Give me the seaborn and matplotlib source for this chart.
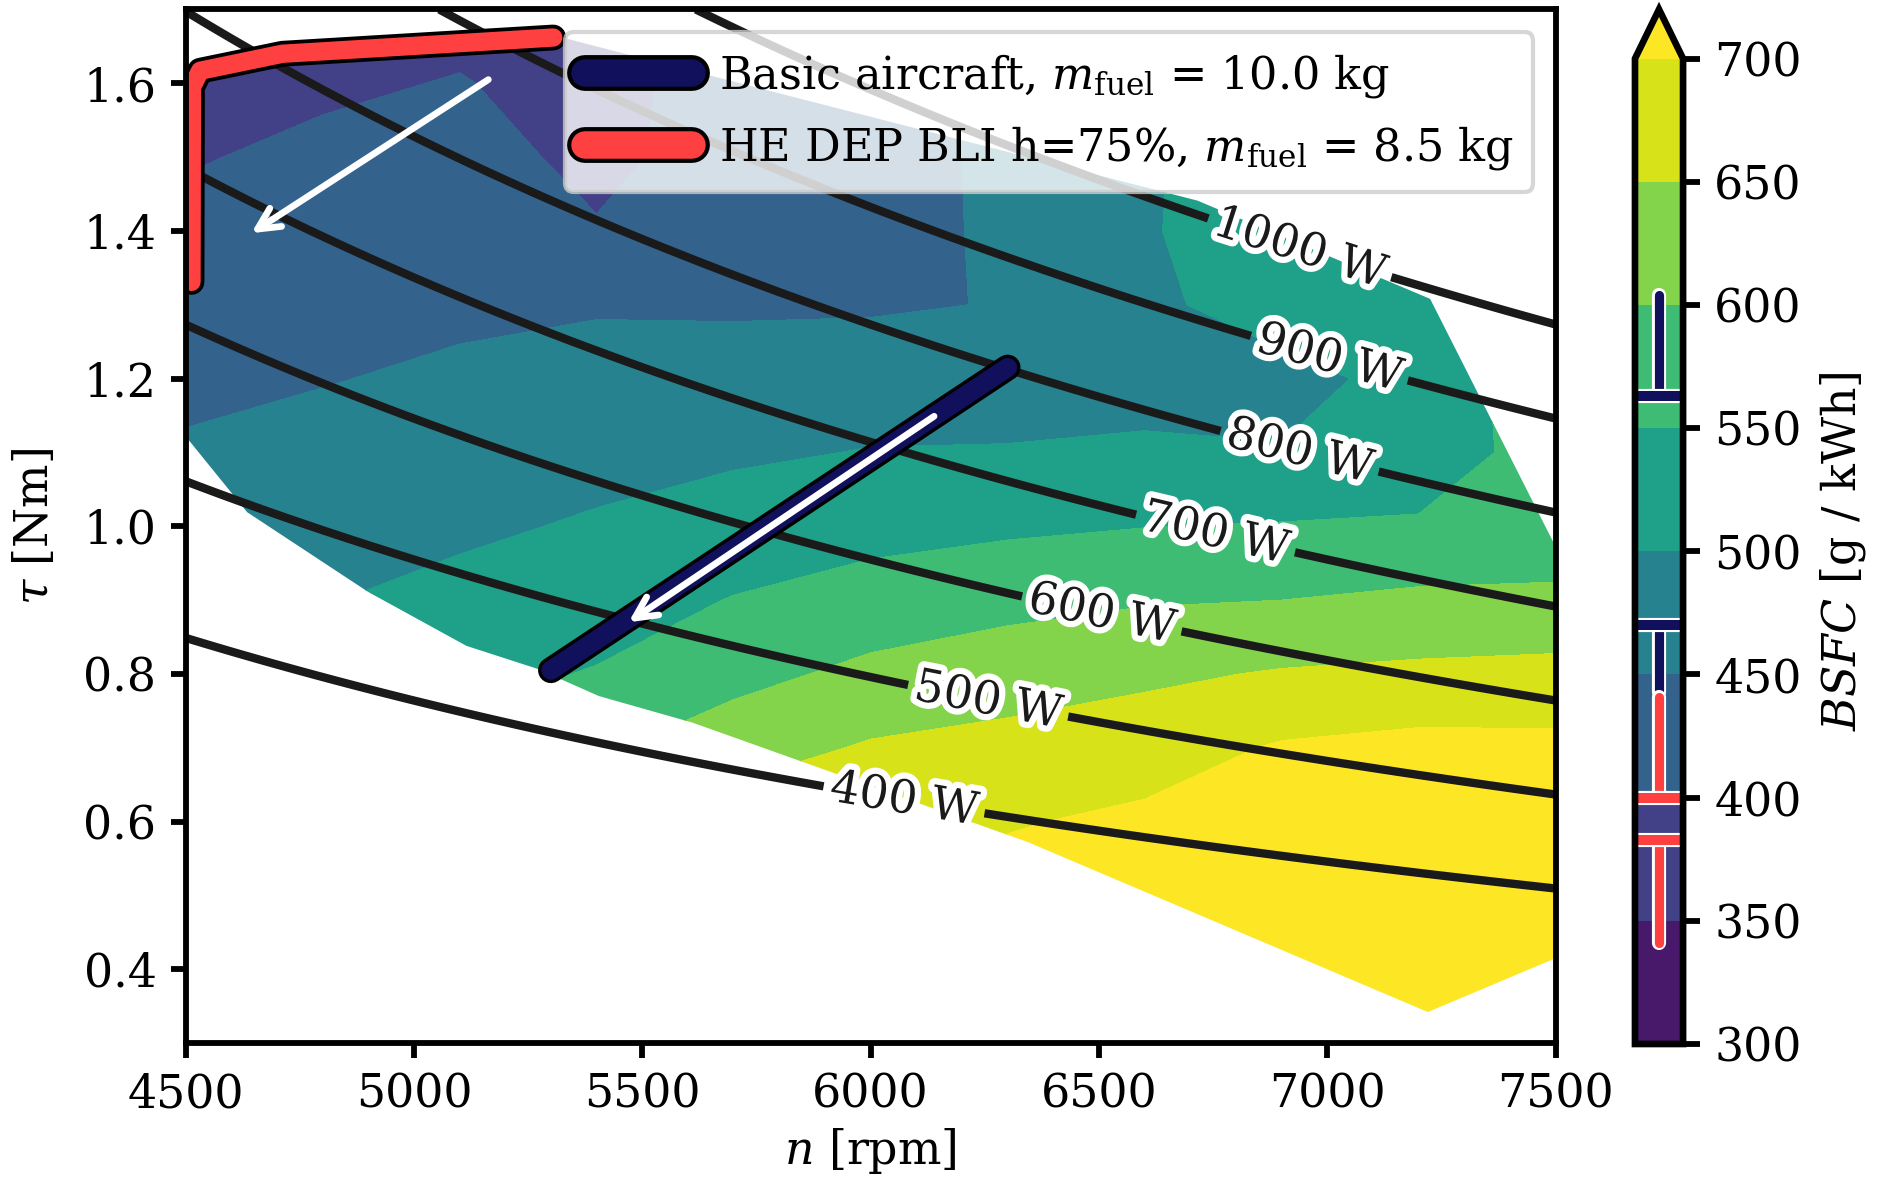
import numpy as np
import matplotlib
matplotlib.use("Agg")
import matplotlib.pyplot as plt
import matplotlib.patheffects as pe
from matplotlib.path import Path
from matplotlib.patches import PathPatch
import seaborn as sns

# ---------------- data ----------------
n_grid = [4500, 4800, 5100, 5400, 5700, 6000, 6300, 6600, 6900, 7200, 7500]
tau_grid = [1.7, 1.6, 1.5, 1.4, 1.3, 1.2, 1.1, 1.0, 0.9, 0.8, 0.7, 0.6, 0.5, 0.4, 0.3]
bsfc_rows = [
    [360, 381, 388, 375, 425, 418, 480, 490, 535, 540, 560],
    [378, 394, 402, 385, 420, 422, 470, 492, 530, 535, 570],
    [397, 408, 415, 390, 418, 428, 461, 495, 525, 530, 580],
    [410, 421, 429, 403, 428, 437, 456, 497, 520, 525, 590],
    [424, 435, 442, 446, 445, 445, 452, 492, 518, 520, 600],
    [440, 448, 457, 466, 467, 474, 478, 488, 488, 512, 585],
    [455, 464, 475, 485, 493, 502, 503, 505, 502, 525, 570],
    [470, 481, 492, 505, 522, 534, 542, 549, 553, 555, 575],
    [485, 498, 513, 528, 552, 570, 585, 596, 600, 610, 608],
    [500, 515, 536, 553, 585, 612, 628, 641, 654, 660, 666],
    [515, 530, 560, 593, 628, 655, 665, 677, 705, 715, 712],
    [530, 545, 580, 640, 675, 684, 696, 710, 725, 730, 735],
    [545, 560, 600, 670, 700, 705, 720, 725, 740, 745, 750],
    [560, 575, 620, 695, 715, 720, 735, 740, 750, 755, 760],
    [575, 590, 640, 715, 725, 730, 745, 750, 755, 760, 765],
]
# operating envelope of the engine map
envelope_n = [4500, 5305, 6716, 7225, 7500, 7500, 7220, 6345, 5610, 5405, 5270, 5115, 4900, 4635, 4500]
envelope_tau = [1.616, 1.665, 1.441, 1.308, 0.972, 0.415, 0.342, 0.572, 0.734, 0.770, 0.807, 0.838, 0.911, 1.019, 1.122]

bsfc_levels = [300, 350, 400, 450, 500, 550, 600, 650, 700]
power_levels = [400, 500, 600, 700, 800, 900, 1000]
label_n = [6073, 6257, 6506, 6755, 6939, 7004, 6939]
label_tau = [0.629, 0.763, 0.881, 0.990, 1.101, 1.227, 1.376]

basic_n = [6300, 5300]
basic_tau = [1.215, 0.805]
he_n = [5305, 4712, 4532, 4514, 4513]
he_tau = [1.662, 1.640, 1.617, 1.595, 1.331]

basic_label = r"Basic aircraft, $m_\mathrm{fuel}$ = 10.0 kg"
he_label = r"HE DEP BLI h=75%, $m_\mathrm{fuel}$ = 8.5 kg"

# BSFC ranges on colourbar: whisker low, box low, box high, whisker high
basic_cb_stats = [443, 470, 563, 604]
he_cb_stats = [341, 383, 400, 441]

arrow1 = [(5163, 1.605), (4644, 1.397)]
arrow2 = [(6139, 1.149), (5470, 0.870)]

navy = "#10105c"
red = "#ff4040"

# ---------------- style ----------------
sns.set_theme(style="ticks")
plt.rcParams.update({
    "font.family": ["DejaVu Serif"],
    "mathtext.fontset": "dejavuserif",
    "font.size": 11,
    "axes.labelsize": 11,
    "xtick.labelsize": 11,
    "ytick.labelsize": 11,
    "legend.fontsize": 10.7,
    "axes.edgecolor": "black",
    "axes.linewidth": 1.4,
    "xtick.major.width": 1.4,
    "ytick.major.width": 1.4,
    "xtick.major.size": 3.5,
    "ytick.major.size": 3.5,
    "xtick.color": "black",
    "ytick.color": "black",
    "text.color": "black",
    "axes.labelcolor": "black",
})

fig = plt.figure(figsize=(6.26, 3.937), dpi=300)
ax = fig.add_axes([0.0988, 0.1168, 0.7296, 0.8751])

N, T = np.meshgrid(n_grid, tau_grid)
Z = np.array(bsfc_rows, dtype=float)
cf = ax.contourf(N, T, Z, levels=bsfc_levels, cmap="viridis", extend="max")
env_path = Path(np.column_stack([envelope_n, envelope_tau]), closed=False)
clip_patch = PathPatch(env_path, transform=ax.transData, facecolor="none", edgecolor="none")
ax.add_patch(clip_patch)
cf.set_clip_path(clip_patch)

# power isolines
n_fine = np.linspace(4500, 7500, 301)
tau_fine = np.linspace(0.3, 1.7, 281)
NN, TT = np.meshgrid(n_fine, tau_fine)
P = TT * NN * np.pi / 30.0
cs = ax.contour(NN, TT, P, levels=power_levels, colors="k", linewidths=2.0)
labels = ax.clabel(cs, fmt=lambda v: f"{v:.0f} W", manual=list(zip(label_n, label_tau)),
                   inline=True, fontsize=11, inline_spacing=7)
for t in labels:
    t.set_path_effects([pe.withStroke(linewidth=3, foreground="white")])

# flight paths
outline = [pe.Stroke(linewidth=6.2, foreground="black"), pe.Normal()]
sns.lineplot(x=basic_n, y=basic_tau, sort=False, estimator=None, ax=ax, color=navy,
             lw=4.6, solid_capstyle="round", label=basic_label)
ax.lines[-1].set_path_effects(outline)
sns.lineplot(x=he_n, y=he_tau, sort=False, estimator=None, ax=ax, color=red,
             lw=4.4, solid_capstyle="round", solid_joinstyle="round", label=he_label)
ax.lines[-1].set_path_effects(outline)

for a in (arrow1, arrow2):
    ax.annotate("", xy=a[1], xytext=a[0],
                arrowprops=dict(arrowstyle="->", color="white", lw=1.6, mutation_scale=13,
                                shrinkA=0, shrinkB=0))

ax.set_xlim(4500, 7500)
ax.set_ylim(0.3, 1.7)
ax.set_xticks([4500, 5000, 5500, 6000, 6500, 7000, 7500])
ax.set_yticks([0.4, 0.6, 0.8, 1.0, 1.2, 1.4, 1.6])
ax.set_yticklabels([f"{v:.1f}" for v in [0.4, 0.6, 0.8, 1.0, 1.2, 1.4, 1.6]])
ax.set_xlabel(r"$n$ [rpm]", labelpad=2)
ax.set_ylabel(r"$\tau$ [Nm]", labelpad=6)

leg = ax.legend(loc="upper right", framealpha=0.8, fancybox=True, handlelength=2.4,
                handletextpad=0.6, borderpad=0.45, labelspacing=0.55)
leg.get_frame().set_edgecolor("0.8")
for h in leg.legend_handles:
    h.set_linewidth(6.6)
    h.set_path_effects([pe.Stroke(linewidth=8.6, foreground="black"), pe.Normal()])

# colourbar (axes includes the extension triangle)
cax = fig.add_axes([0.8706, 0.116, 0.0256, 0.876])
cbar = fig.colorbar(cf, cax=cax, ticks=bsfc_levels)
cbar.set_label(r"$BSFC$ [g / kWh]")
cbar.outline.set_linewidth(1.6)
cax.tick_params(width=1.4, length=4)
ylim = cax.get_ylim()
white_edge = [pe.Stroke(linewidth=3.4, foreground="white"), pe.Normal()]
for stats, col in ((basic_cb_stats, navy), (he_cb_stats, red)):
    lo, q1, q3, hi = stats
    cax.plot([0.5, 0.5], [lo, q1], color=col, lw=2.2, solid_capstyle="round", path_effects=white_edge)
    cax.plot([0.5, 0.5], [q3, hi], color=col, lw=2.2, solid_capstyle="round", path_effects=white_edge)
    cax.plot([0, 1], [q1, q1], color=col, lw=2.4, solid_capstyle="butt", path_effects=white_edge)
    cax.plot([0, 1], [q3, q3], color=col, lw=2.4, solid_capstyle="butt", path_effects=white_edge)
cax.set_xlim(0, 1)
cax.set_ylim(ylim)

fig.savefig("out.png", dpi=300)
